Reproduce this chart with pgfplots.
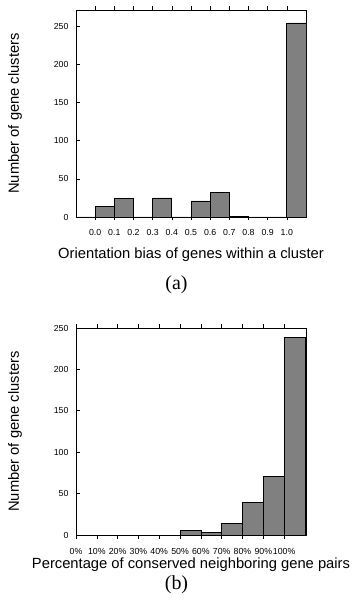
\documentclass[border=0pt]{standalone}
\usepackage{fontspec}
\setmainfont{Liberation Sans}
\newfontfamily\capserif{Liberation Serif}
\usepackage{pgfplots}
\pgfplotsset{compat=1.18}
\definecolor{barfill}{RGB}{128,128,128}
\pgfplotsset{
  histo/.style={
    scale only axis, width=230bp, height=207bp,
    clip mode=individual,
    axis line style={line width=0.8bp},
    tick style={black, line width=0.6bp},
    major tick length=3.5bp,
    tick align=inside,
    xtick pos=both, ytick pos=left,
    tick label style={font=\fontsize{8.8}{10}\selectfont},
    /pgf/number format/assume math mode=true,
    yticklabel style={xshift=-4bp},
    label style={font=\fontsize{14.8}{17}\selectfont},
    ylabel style={at={(axis description cs:-0.265,0.5)}, anchor=center},
    ymin=0, ytick={0,50,100,150,200,250},
    ybar, bar width=0.1, bar shift=0pt,
  },
  histbar/.style={fill=barfill, draw=black, line width=0.7bp},
}
\begin{document}
\begin{tikzpicture}
\useasboundingbox (0,0) rectangle (353bp,614bp);
\begin{axis}[histo, at={(76bp,397bp)}, anchor=south west,
  xmin=-0.1, xmax=1.1, ymax=271,
  xtick={0,0.1,0.2,0.3,0.4,0.5,0.6,0.7,0.8,0.9,1.0},
  xticklabels={0.0,0.1,0.2,0.3,0.4,0.5,0.6,0.7,0.8,0.9,1.0},
  xticklabel style={yshift=-5bp},
  xlabel={Orientation bias of genes within a cluster},
  xlabel style={at={(axis description cs:0.5,-0.1836)}, anchor=center},
  ylabel={Number of gene clusters}]
\addplot[histbar] coordinates {
 (-0.05,0) (0.05,14) (0.15,24) (0.25,0) (0.35,25) (0.45,0)
 (0.55,21) (0.65,32) (0.75,1) (0.85,0) (0.95,0) (1.05,254)};
\node[font=\capserif\fontsize{20}{24}\selectfont] at (axis description cs:0.437,-0.3285) {(a)};
\end{axis}
\begin{axis}[histo, at={(76bp,79bp)}, anchor=south west,
  bar width=10,
  xmin=0, xmax=110.5, ymax=250,
  xtick={0,10,20,30,40,50,60,70,80,90,100},
  xticklabels={0\%,10\%,20\%,30\%,40\%,50\%,60\%,70\%,80\%,90\%,100\%},
  xticklabel style={yshift=-6bp},
  xlabel={Percentage of conserved neighboring gene pairs},
  xlabel style={at={(axis description cs:0.5,-0.145)}, anchor=center},
  ylabel={Number of gene clusters}]
\addplot[histbar] coordinates {
 (5,0) (15,0) (25,0) (35,0) (45,0) (55,6) (65,3)
 (75,14) (85,39) (95,71) (105,239)};
\node[font=\capserif\fontsize{20}{24}\selectfont] at (axis description cs:0.437,-0.2415) {(b)};
\end{axis}
\end{tikzpicture}
\end{document}
